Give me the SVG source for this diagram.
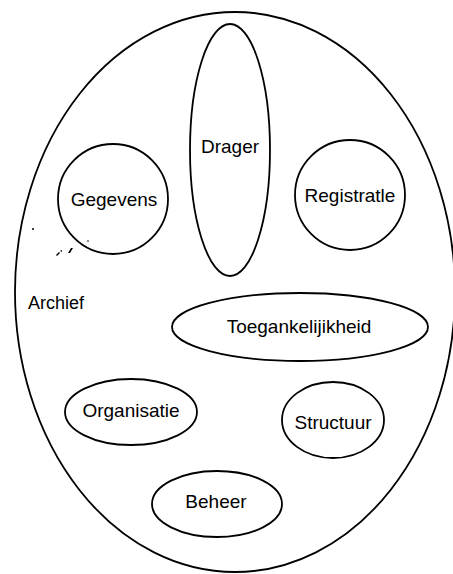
<svg xmlns="http://www.w3.org/2000/svg" width="453" height="574" viewBox="0 0 453 574">
  <style>
    .shape { fill: none; stroke: #000; stroke-width: 1.8; }
    .label { font-family: "Liberation Sans", Arial, sans-serif; font-size: 19px; fill: #000; text-anchor: middle; }
    .speck { fill: #000; }
  </style>
  <rect width="453" height="574" fill="#fff"/>

  <!-- outer boundary: Archief -->
  <g id="archief">
    <ellipse class="shape" cx="235" cy="292" rx="220" ry="280"/>
    <text class="label" x="56" y="309" style="font-size:18px">Archief</text>
  </g>

  <g id="drager">
    <ellipse class="shape" cx="230" cy="150" rx="40" ry="126"/>
    <text class="label" x="230" y="153">Drager</text>
  </g>

  <g id="gegevens">
    <ellipse class="shape" cx="113" cy="199" rx="55" ry="55"/>
    <text class="label" x="114" y="206">Gegevens</text>
  </g>

  <g id="registratie">
    <ellipse class="shape" cx="350" cy="195" rx="55" ry="55"/>
    <text class="label" x="350" y="202">Registratle</text>
  </g>

  <g id="toegankelijkheid">
    <ellipse class="shape" cx="300" cy="327" rx="128" ry="34"/>
    <text class="label" x="299" y="333">Toegankelijikheid</text>
  </g>

  <g id="organisatie">
    <ellipse class="shape" cx="131" cy="412" rx="66" ry="33"/>
    <text class="label" x="131" y="417">Organisatie</text>
  </g>

  <g id="structuur">
    <ellipse class="shape" cx="333" cy="420" rx="51" ry="38"/>
    <text class="label" x="333" y="429">Structuur</text>
  </g>

  <g id="beheer">
    <ellipse class="shape" cx="217" cy="504" rx="65" ry="33"/>
    <text class="label" x="216" y="508">Beheer</text>
  </g>

  <!-- no connectors in this figure -->
  <g id="connectors"/>

  <!-- small marks near the left edge -->
  <g id="marks">
    <circle class="speck" cx="33" cy="229" r="1"/>
    <path class="speck" d="M56 255 l3 -3 l1 1 l-3 3 z"/>
    <path class="speck" d="M60 251 l2 -1 l0 2 z"/>
    <path class="speck" d="M68 253 l3 -5 l2 0 l-3 5 z"/>
    <circle class="speck" cx="88" cy="241" r="0.8"/>
  </g>
</svg>
